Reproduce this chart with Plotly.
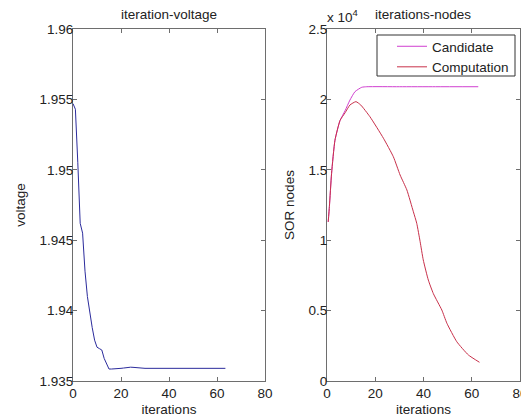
import plotly.graph_objects as go

# ---- data ----
volt_iter = [0, 1, 2, 3, 4, 5, 6, 7, 8, 9, 10, 11, 12, 13, 14, 15, 16, 17, 18, 19,
             20, 21, 22, 23, 24, 25, 26, 27, 28, 29, 30, 40, 50, 63.5]
voltage = [1.9547, 1.9543, 1.9505, 1.9462, 1.9455, 1.9428, 1.9410, 1.9397, 1.9388, 1.9379,
           1.9374, 1.9373, 1.9372, 1.9366, 1.9362, 1.93585, 1.93585, 1.93585, 1.93585, 1.93588,
           1.93590, 1.93592, 1.93595, 1.93597, 1.93598, 1.93597, 1.93595, 1.93592, 1.93594, 1.93590,
           1.93590, 1.93590, 1.93590, 1.93590]

cand_iter = [0.5, 1, 1.9, 3.3, 5.4, 7.5, 9.5, 11.6, 14.4, 16.5, 30, 45, 62.7]
candidate = [11300, 12400, 14750, 17100, 18500, 19200, 19950, 20550, 20860, 20900, 20900, 20900, 20900]

comp_iter = [0.5, 1, 1.9, 3.3, 5.4, 7.5, 9.5, 12, 14, 17.8, 23.4, 27.5, 30.3, 33.1, 35.8,
             37.2, 38.6, 39.9, 42.0, 44.1, 47.6, 49.7, 53.8, 58.6, 63.2]
computation = [11300, 12400, 14750, 17100, 18500, 19050, 19600, 19840, 19600, 18770, 17240,
               15930, 14630, 13570, 12020, 11200, 9900, 8600, 7170, 6200, 5040, 4100, 2790,
               1850, 1330]

x_ticks = [0, 20, 40, 60, 80]
v_tickvals = [1.935, 1.94, 1.945, 1.95, 1.955, 1.96]
v_ticktext = ["1.935", "1.94", "1.945", "1.95", "1.955", "1.96"]
n_tickvals = [0, 5000, 10000, 15000, 20000, 25000]
n_ticktext = ["0", "0.5", "1", "1.5", "2", "2.5"]

# the page body adds an 8px margin, so the figure is drawn 8px smaller
OFF = 8
W, H = 529 - OFF, 420 - OFF


def px(x):
    return (x - OFF) / W


def py(y):
    return 1 - (y - OFF) / H


FONT = "Liberation Sans, Arial, sans-serif"
FS = 13.5
TXT = "#222222"
AX = "#6e6e6e"

fig = go.Figure()
fig.add_trace(go.Scatter(x=volt_iter, y=voltage, mode="lines", showlegend=False,
                         line=dict(color="#2b2b9c", width=1), xaxis="x", yaxis="y"))
fig.add_trace(go.Scatter(x=cand_iter, y=candidate, mode="lines", name="Candidate",
                         line=dict(color="#d03fd0", width=1, shape="spline", smoothing=0.5),
                         xaxis="x2", yaxis="y2"))
fig.add_trace(go.Scatter(x=comp_iter, y=computation, mode="lines", name="Computation",
                         line=dict(color="#c8304a", width=1, shape="spline", smoothing=0.5),
                         xaxis="x2", yaxis="y2"))

y_dom = [py(381), py(29)]
axcommon = dict(showline=True, linecolor=AX, linewidth=1, mirror="ticks", ticks="inside",
                ticklen=4, tickcolor=AX, showgrid=False, zeroline=False, automargin=False,
                tickfont=dict(family=FONT, size=FS, color=TXT))

fig.update_layout(
    template="none",
    width=W, height=H,
    margin=dict(l=0, r=0, t=0, b=0, pad=0),
    paper_bgcolor="white", plot_bgcolor="white",
    font=dict(family=FONT, size=FS, color=TXT),
    xaxis=dict(domain=[px(73), px(265)], range=[0, 80], tickvals=x_ticks, anchor="y",
               ticklabelstandoff=0,
               title=dict(text="iterations", standoff=4, font=dict(size=FS)), **axcommon),
    yaxis=dict(domain=y_dom, range=[1.935, 1.96], tickvals=v_tickvals, ticktext=v_ticktext,
               anchor="x", ticklabelstandoff=-4,
               title=dict(text="voltage", standoff=10, font=dict(size=FS)), **axcommon),
    xaxis2=dict(domain=[px(327), px(520)], range=[0, 80], tickvals=x_ticks, anchor="y2",
                ticklabelstandoff=0,
                title=dict(text="iterations", standoff=4, font=dict(size=FS)), **axcommon),
    yaxis2=dict(domain=y_dom, range=[0, 25000], tickvals=n_tickvals, ticktext=n_ticktext,
                anchor="x2", ticklabelstandoff=-4,
                title=dict(text="SOR nodes", standoff=10, font=dict(size=FS)), **axcommon),
    showlegend=True,
    legend=dict(x=px(392), y=py(31), xanchor="left", yanchor="top",
                borderwidth=0, bgcolor="rgba(0,0,0,0)",
                font=dict(family=FONT, size=FS, color=TXT), tracegroupgap=0),
    shapes=[
        dict(type="rect", xref="paper", yref="paper", x0=px(377), x1=px(515),
             y0=py(76), y1=py(35), line=dict(color="#333333", width=1),
             fillcolor="white", layer="below"),
    ],
    annotations=[
        dict(text="iteration-voltage", x=px(169), y=py(15), xref="paper", yref="paper",
             showarrow=False, xanchor="center", yanchor="middle", font=dict(size=FS, color=TXT)),
        dict(text="iterations-nodes", x=px(423), y=py(15), xref="paper", yref="paper",
             showarrow=False, xanchor="center", yanchor="middle", font=dict(size=FS, color=TXT)),
        dict(text="x 10<sup>4</sup>", x=px(325), y=py(27), xref="paper", yref="paper",
             showarrow=False, xanchor="left", yanchor="bottom", font=dict(size=FS, color=TXT)),
    ],
)

fig.write_html("out.html")
